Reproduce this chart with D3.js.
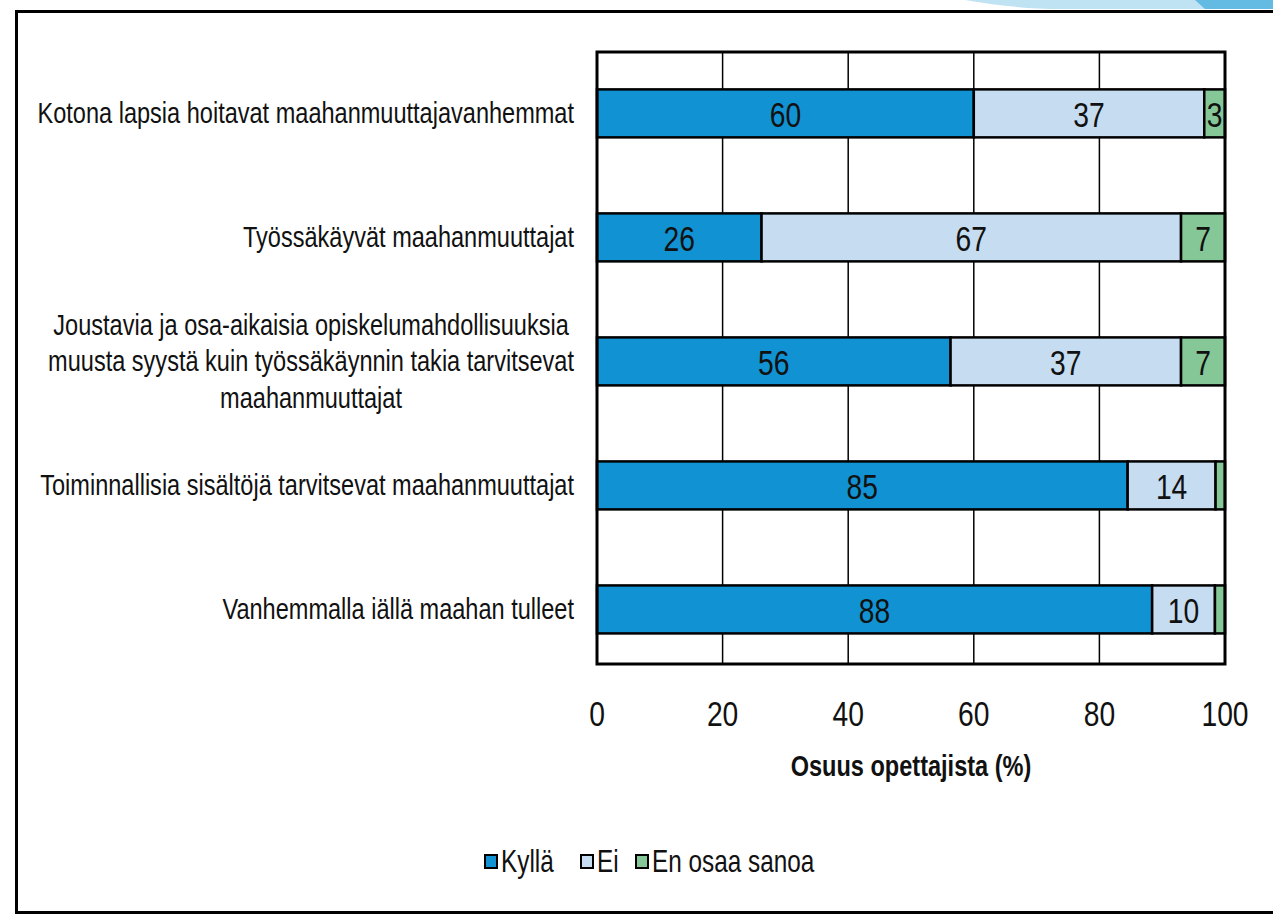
<!DOCTYPE html>
<html lang="fi">
    <head>
        <meta charset="utf-8">
        <title>Osuus opettajista</title>
        <script type="text/javascript" src="https://cdn.jsdelivr.net/npm/d3@7/dist/d3.min.js"></script>
        <style type="text/css">
        body { margin: 0; background: #fff; }
        </style>
    </head>
    <body>
        <div id="drawing"></div>
        <script type="text/javascript">
            // data
            var categories = [
                ["Kotona lapsia hoitavat maahanmuuttajavanhemmat"],
                ["Työssäkäyvät maahanmuuttajat"],
                ["Joustavia ja osa-aikaisia opiskelumahdollisuuksia",
                 "muusta syystä kuin työssäkäynnin takia tarvitsevat",
                 "maahanmuuttajat"],
                ["Toiminnallisia sisältöjä tarvitsevat maahanmuuttajat"],
                ["Vanhemmalla iällä maahan tulleet"]
            ];
            var seriesNames = ["Kyllä", "Ei", "En osaa sanoa"];
            var kylla = [60, 26.2, 56.3, 84.5, 88.4];
            var ei = [36.7, 66.8, 36.7, 14, 10];
            var eos = [3.3, 7, 7, 1.5, 1.6];
            var ticks = [0, 20, 40, 60, 80, 100];
            var axisTitle = "Osuus opettajista (%)";

            var colors = ["#1192D2", "#C6DCF1", "#86C797"];
            var W = 1273, H = 916;
            var font = "'Liberation Sans Narrow', 'Arial Narrow', 'Liberation Sans', Arial, sans-serif";

            var svg = d3.select("#drawing")
                .append("svg")
                .attr("width", W)
                .attr("height", H);

            // if no narrow face exists, squeeze the regular one
            var probe = svg.append("text").style("font-family", "'Liberation Sans Narrow', 'Liberation Sans'").style("font-size", "40px").text("maahanmuuttajat");
            var probe2 = svg.append("text").style("font-family", "'Liberation Sans'").style("font-size", "40px").text("maahanmuuttajat");
            var sx = Math.abs(probe.node().getComputedTextLength() - probe2.node().getComputedTextLength()) < 1 ? 0.785 : 0.96;
            probe.remove(); probe2.remove();

            function label(g, x, y, txt, size, anchor, weight) {
                return g.append("text")
                    .attr("transform", "translate(" + x + "," + y + ") scale(" + sx + ",1)")
                    .attr("text-anchor", anchor)
                    .attr("dominant-baseline", "central")
                    .style("font-family", font)
                    .style("font-size", size + "px")
                    .style("font-weight", weight || "normal")
                    .style("fill", "#111")
                    .text(txt);
            }

            // decoration top right
            svg.append("path")
                .attr("d", "M965,0 C1000,6 1030,9 1060,9 L1273,9 L1273,0 Z")
                .style("fill", "#BFE3F3");
            svg.append("path")
                .attr("d", "M1195,0 L1205,9 L1273,9 L1273,0 Z")
                .style("fill", "#63BAE2");

            // frame (top, left, bottom)
            svg.append("path")
                .attr("d", "M1273,11.5 L16.5,11.5 L16.5,912.5 L1273,912.5")
                .style("fill", "none")
                .style("stroke", "#000")
                .style("stroke-width", 3);

            var x = d3.scaleLinear().domain([0, 100]).range([597, 1225]);
            var y = d3.scaleBand().domain(d3.range(categories.length))
                .range([52, 664]).paddingInner(0.613).paddingOuter(0.274).align(0.55);

            var plot = svg.append("g");

            // grid
            plot.selectAll("line.grid").data(ticks.slice(1, -1)).enter()
                .append("line")
                .attr("x1", function(d){ return x(d); })
                .attr("x2", function(d){ return x(d); })
                .attr("y1", 52).attr("y2", 664)
                .style("stroke", "#000")
                .style("stroke-width", 1.5);

            // stacked bars
            var rows = categories.map(function(c, i){ return [kylla[i], ei[i], eos[i]]; });
            rows.forEach(function(vals, i){
                var start = 0;
                vals.forEach(function(v, k){
                    plot.append("rect")
                        .attr("x", x(start))
                        .attr("y", y(i))
                        .attr("width", x(start + v) - x(start))
                        .attr("height", y.bandwidth())
                        .style("fill", colors[k])
                        .style("stroke", "#000")
                        .style("stroke-width", 2.5);
                    if (v >= 2.5) {
                        label(plot, x(start + v / 2), y(i) + y.bandwidth() / 2 + 1, Math.round(v), 36, "middle");
                    }
                    start += v;
                });
            });

            // plot border
            plot.append("rect")
                .attr("x", x(0)).attr("y", 52)
                .attr("width", x(100) - x(0)).attr("height", 664 - 52)
                .style("fill", "none")
                .style("stroke", "#000")
                .style("stroke-width", 3);

            // category labels, multi-line ones centred as a block
            categories.forEach(function(lines, i){
                var cy = y(i) + y.bandwidth() / 2;
                var lh = 36.5;
                if (lines.length == 1) {
                    label(svg, 574, cy, lines[0], 30, "end");
                } else {
                    var tmp = lines.map(function(l){ return label(svg, 0, 0, l, 30, "start"); });
                    var maxW = d3.max(tmp, function(t){ return t.node().getComputedTextLength() * sx; });
                    tmp.forEach(function(t){ t.remove(); });
                    lines.forEach(function(l, j){
                        label(svg, 574 - maxW / 2, cy + (j - (lines.length - 1) / 2) * lh, l, 30, "middle");
                    });
                }
            });

            // x axis tick labels
            ticks.forEach(function(t){
                label(svg, x(t), 714, t, 36, "middle");
            });
            label(svg, 911, 766, axisTitle, 30, "middle", "bold");

            // legend
            var legendX = [485, 581, 636];
            seriesNames.forEach(function(n, k){
                svg.append("rect")
                    .attr("x", legendX[k]).attr("y", 855)
                    .attr("width", 12).attr("height", 13)
                    .style("fill", colors[k])
                    .style("stroke", "#000")
                    .style("stroke-width", 2);
                label(svg, legendX[k] + 16, 861, n, 31, "start");
            });
        </script>
    </body>
</html>
